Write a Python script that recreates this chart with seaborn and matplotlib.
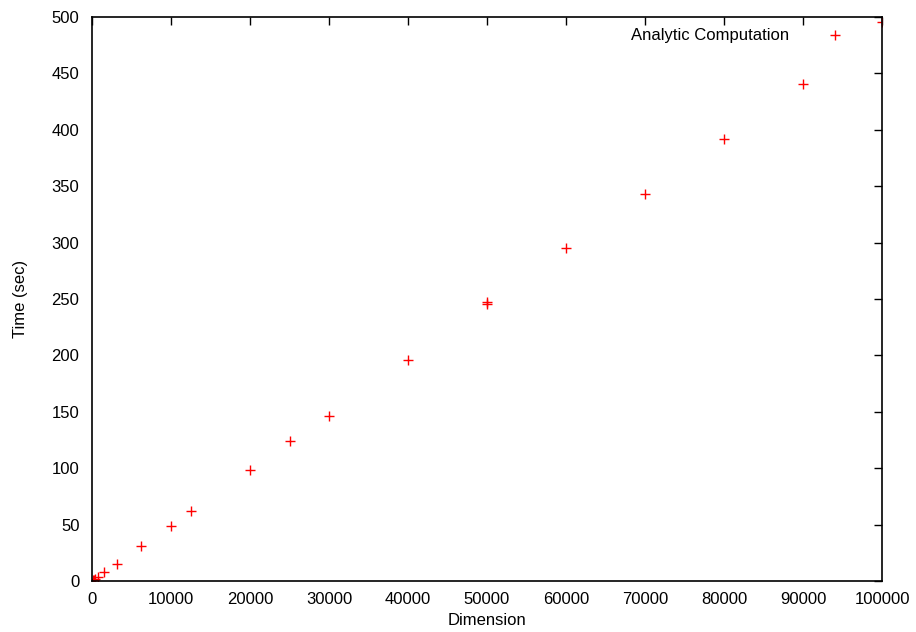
import matplotlib
matplotlib.use("Agg")
import matplotlib.pyplot as plt
import seaborn as sns
import pandas as pd

dimension = [97, 195, 390, 781, 1562, 3125, 6250, 10000, 12500, 20000, 25000,
             30000, 40000, 50000, 50000, 60000, 70000, 80000, 90000, 100000]
time_sec = [0.5, 1.0, 1.9, 3.8, 7.7, 15.4, 30.8, 49.0, 62.0, 98.3, 124.0,
            146.5, 196.0, 246.0, 247.5, 295.5, 343.5, 391.5, 440.7, 496.0]

x_ticks = list(range(0, 100001, 10000))
y_ticks = list(range(0, 501, 50))

df = pd.DataFrame({"Dimension": dimension, "Time": time_sec})

sns.set_style("white")
plt.rcParams["font.family"] = ["Liberation Sans", "DejaVu Sans"]
plt.rcParams["text.color"] = "black"
plt.rcParams["axes.labelcolor"] = "black"

fig = plt.figure(figsize=(9.16, 6.32), dpi=100)
ax = fig.add_axes([92 / 916, 1 - 581 / 632, 790 / 916, 564 / 632])

sns.scatterplot(data=df, x="Dimension", y="Time", marker="+", color="red",
                s=60, linewidth=1.0, label="Analytic Computation", ax=ax)

ax.set_xlim(0, 100000)
ax.set_ylim(0, 500)
ax.set_xticks(x_ticks)
ax.set_yticks(y_ticks)
ax.set_xlabel("Dimension", fontsize=12, labelpad=4)
ax.set_ylabel("Time (sec)", fontsize=12, labelpad=17)
ax.tick_params(direction="in", length=6, width=1, labelsize=12,
               top=True, right=True, colors="black")
ax.tick_params(axis="x", pad=8)
ax.tick_params(axis="y", pad=9)
for sp in ax.spines.values():
    sp.set_color("black")
    sp.set_linewidth(1.2)

leg = ax.legend(loc="upper right", bbox_to_anchor=(0.981, 0.993),
                frameon=False, markerfirst=False, fontsize=12,
                handletextpad=1.25, borderaxespad=0, handlelength=3)

fig.savefig("out.png", dpi=100)
